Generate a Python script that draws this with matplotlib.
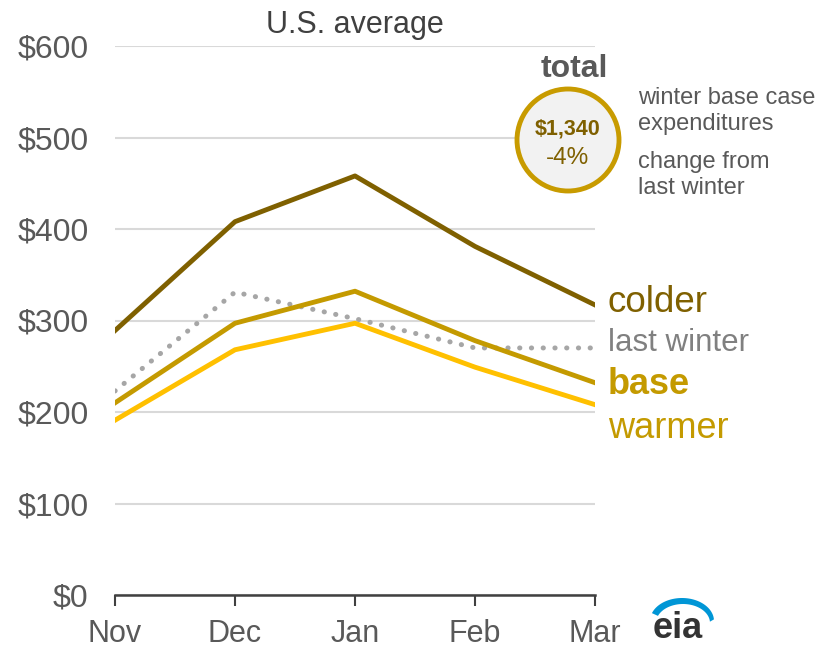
import numpy as np
import matplotlib.pyplot as plt
from matplotlib.patches import Circle, Polygon

months = ["Nov", "Dec", "Jan", "Feb", "Mar"]
colder = [289, 408, 458, 381, 317]
base = [210, 297, 332, 278, 232]
warmer = [191, 268, 297, 249, 208]
last_winter = [223, 331, 302, 270, 270]
y_ticks = [0, 100, 200, 300, 400, 500, 600]
total_value = "$1,340"
total_change = "-4%"

C_COLD = "#7F6000"
C_BASE = "#C49A00"
C_WARM = "#FFC000"
C_LAST = "#A6A6A6"
C_TEXT = "#595959"

plt.rcParams['font.family'] = ['Liberation Sans', 'DejaVu Sans']

fig = plt.figure(figsize=(8.2, 6.48), dpi=100)
ax = fig.add_axes([115 / 820, 1 - 595 / 648, 480 / 820, 549 / 648])
x = np.arange(len(months))

ax.plot(x, last_winter, color=C_LAST, lw=3.6, linestyle=(0, (0.05, 2.3)),
        dash_capstyle='round', zorder=3)
ax.plot(x, colder, color=C_COLD, lw=3.5, zorder=4)
ax.plot(x, base, color=C_BASE, lw=3.5, zorder=4)
ax.plot(x, warmer, color=C_WARM, lw=3.5, zorder=4)

ax.set_xlim(0, 4)
ax.set_ylim(0, 600)
ax.set_yticks(y_ticks)
ax.set_yticklabels([f"${v}" for v in y_ticks])
ax.set_xticks(x)
ax.set_xticklabels(months)
ax.yaxis.grid(True, color="#D9D9D9", lw=1.5)
ax.set_axisbelow(True)
for s in ["top", "right", "left"]:
    ax.spines[s].set_visible(False)
ax.spines["bottom"].set_color("#404040")
ax.spines["bottom"].set_linewidth(1.8)
ax.spines["bottom"].set_zorder(5)
ax.tick_params(axis='y', length=0, pad=19, labelsize=23, labelcolor=C_TEXT)
ax.tick_params(axis='x', direction='out', length=8, width=1.5, color="#404040",
               pad=9, labelsize=22, labelcolor=C_TEXT)

ax.set_title("U.S. average", fontsize=22, color="#404040", pad=9)

# series labels at right
lbl_x = 608 / 820
fig.text(lbl_x, 1 - 302 / 648, "colder", color=C_COLD, fontsize=26.5, va='center')
fig.text(lbl_x, 1 - 343 / 648, "last winter", color="#808080", fontsize=22.5, va='center')
fig.text(lbl_x, 1 - 384 / 648, "base", color=C_BASE, fontsize=26, va='center',
         fontweight='bold')
fig.text(lbl_x, 1 - 428 / 648, "warmer", color=C_BASE, fontsize=26, va='center')

# total circle
cx, cy, r = 568 / 820, 1 - 140 / 648, 51
circ = Circle((568, 648 - 140), r, transform=None, facecolor="#F2F2F2",
              edgecolor="#C89B00", lw=3.5, zorder=10)
fig.patches.append(circ)
fig.text(574 / 820, 1 - 69 / 648, "total", color=C_TEXT, fontsize=23, fontweight='bold',
         ha='center', va='center')
fig.text(cx, 1 - 129 / 648, total_value, color=C_COLD, fontsize=15.5,
         fontweight='bold', ha='center', va='center', zorder=11)
fig.text(cx, 1 - 158 / 648, total_change, color=C_COLD, fontsize=17.5,
         ha='center', va='center', zorder=11)
fig.text(638 / 820, 1 - 111 / 648, "winter base case\nexpenditures", color=C_TEXT,
         fontsize=17, va='center', linespacing=1.2)
fig.text(638 / 820, 1 - 175 / 648, "change from\nlast winter", color=C_TEXT,
         fontsize=17, va='center', linespacing=1.2)

# eia logo
fig.text(678 / 820, 1 - 629 / 648, "eia", color="#333333", fontsize=26,
         fontweight='bold', ha='center', va='center')
a1 = np.radians(np.linspace(160, 4, 50))
a2 = np.radians(np.linspace(4, 158, 50))
outer = np.column_stack([682 + 32 * np.cos(a1), 648 - (621 - 23 * np.sin(a1))])
inner = np.column_stack([683 + 27 * np.cos(a2), 648 - (623 - 19 * np.sin(a2))])
arc = Polygon(np.vstack([outer, inner]), closed=True, transform=None,
              facecolor="#0096D6", edgecolor='none')
fig.patches.append(arc)

fig.savefig("out.png", dpi=100)
